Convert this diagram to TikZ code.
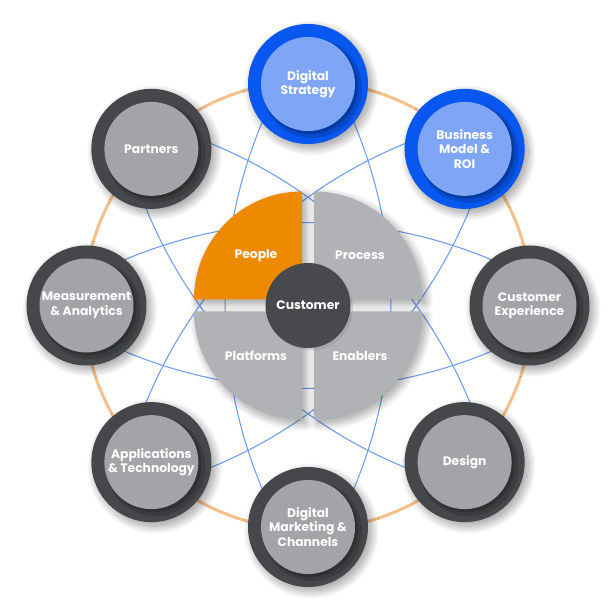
\documentclass[tikz,border=0pt]{standalone}
\usepackage{fontspec}
\setmainfont{Poppins}
\usetikzlibrary{shadows, shadows.blur, backgrounds}
\definecolor{cring}{HTML}{46474A}
\definecolor{ccore}{HTML}{A3A4A7}
\definecolor{bring}{HTML}{0757F0}
\definecolor{bcore}{HTML}{7FA6F6}
\definecolor{cquad}{HTML}{B1B2B5}
\definecolor{corange}{HTML}{EE8A00}
\definecolor{ccust}{HTML}{48494C}
\definecolor{clink}{HTML}{6F9BF0}
\definecolor{choop}{HTML}{F6C08A}
\tikzset{
  every picture/.style={font=\bfseries\fontsize{7}{8.2}\selectfont},
  soft/.style={blur shadow={shadow xshift=0.07cm, shadow yshift=-0.08cm, shadow blur radius=0.16cm, shadow blur steps=24, shadow opacity=40}},
  hub/.style 2 args={circle, fill=#1, minimum size=2.4cm, inner sep=0pt, outer sep=0pt, align=center, text=white, soft,
    path picture={
      \fill[black, opacity=.15] ([shift={(0.08,-0.08)}]path picture bounding box.center) circle (1.0cm);
      \fill[black, opacity=.2] ([shift={(0.04,-0.04)}]path picture bounding box.center) circle (0.96cm);
      \fill[#2] (path picture bounding box.center) circle (0.94cm);}},
  grayhub/.style={hub={cring}{ccore}},
  bluehub/.style={hub={bring}{bcore}},
  quad/.style={fill=#1, soft},
  quad/.default=cquad,
  qtext/.style={text=white},
  hubcenter/.style={circle, fill=ccust, minimum size=1.7cm, inner sep=0pt, text=white,
    drop shadow={shadow xshift=0.05cm, shadow yshift=-0.05cm, opacity=.25}},
  link/.style={draw=clink, line width=0.6pt, shorten <=-1pt, shorten >=-1pt},
  hoop/.style={draw=choop, line width=1.7pt},
}

\begin{document}
\begin{tikzpicture}
  \useasboundingbox (-6.16,-6.13) rectangle (6.08,6.11);
  % centre pie
  \fill[quad=corange] (-0.12,0.12) -- ++(-2.16,0) arc[start angle=180, end angle=90, radius=2.16] -- cycle;
  \fill[quad] (0.12,0.12) -- ++(2.16,0) arc[start angle=0, end angle=90, radius=2.16] -- cycle;
  \fill[quad] (-0.12,-0.12) -- ++(-2.16,0) arc[start angle=180, end angle=270, radius=2.16] -- cycle;
  \fill[quad] (0.12,-0.12) -- ++(2.16,0) arc[start angle=0, end angle=-90, radius=2.16] -- cycle;
  \node[qtext] (people) at (-1.04,1.0) {People};
  \node[qtext] (process) at (1.04,1.0) {Process};
  \node[qtext] (platforms) at (-1.04,-1.0) {Platforms};
  \node[qtext] (enablers) at (1.04,-1.0) {Enablers};
  \node[hubcenter] (customer) at (0,0) {Customer};
  % outer hubs
  \node[bluehub] (strategy) at (90:4.43) {Digital\\Strategy};
  \node[bluehub] (business) at (45:4.43) {Business\\Model \&\\ROI};
  \node[grayhub] (experience) at (0:4.43) {Customer\\Experience};
  \node[grayhub] (design) at (-45:4.43) {Design};
  \node[grayhub] (marketing) at (-90:4.43) {Digital\\Marketing \&\\Channels};
  \node[grayhub] (apps) at (-135:4.43) {Applications\\\& Technology};
  \node[grayhub] (measure) at (180:4.43) {Measurement\\\& Analytics};
  \node[grayhub] (partners) at (135:4.43) {Partners};
  \begin{scope}[on background layer]
    \draw[hoop] (0,0) circle (4.48);
    % curved links between opposite hubs
    \draw[link] (strategy.220) .. controls +(247.1:2.54) and +(112.9:2.54) .. (marketing.140);
    \draw[link] (partners.265) .. controls +(292.1:2.54) and +(157.9:2.54) .. (design.185);
    \draw[link] (measure.310) .. controls +(337.1:2.54) and +(202.9:2.54) .. (experience.230);
    \draw[link] (apps.355) .. controls +(22.1:2.54) and +(247.9:2.54) .. (business.275);
    \draw[link] (marketing.40) .. controls +(67.1:2.54) and +(292.9:2.54) .. (strategy.320);
    \draw[link] (design.85) .. controls +(112.1:2.54) and +(337.9:2.54) .. (partners.5);
    \draw[link] (experience.130) .. controls +(157.1:2.54) and +(22.9:2.54) .. (measure.50);
    \draw[link] (business.175) .. controls +(202.1:2.54) and +(67.9:2.54) .. (apps.95);
  \end{scope}
\end{tikzpicture}
\end{document}
